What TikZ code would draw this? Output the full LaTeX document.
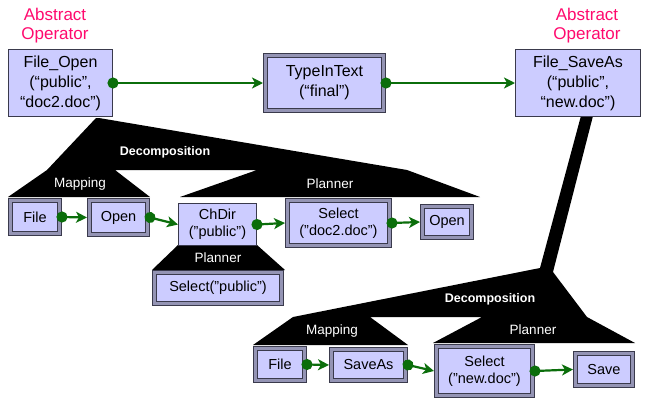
\documentclass[tikz,border=0pt]{standalone}
\usepackage{fontspec}
\setmainfont{Liberation Sans}
\usetikzlibrary{arrows.meta}
\definecolor{lav}{HTML}{CCCCFF}
\definecolor{edge}{HTML}{3A3A4C}
\definecolor{band}{HTML}{9494B4}
\definecolor{flow}{HTML}{0B6E0B}
\definecolor{tag}{HTML}{FF0A6E}
\begin{document}
\begin{tikzpicture}[x=1pt,y=-1pt,
  opbox/.style={draw=edge, fill=lav, line width=1pt, align=center, inner sep=0pt,
    font=\fontsize{16}{20}\selectfont},
  smallop/.style={opbox, font=\fontsize{14.5}{17}\selectfont},
  prim/.style={draw=edge, double=band, double distance=3pt, line width=0.9pt,
    fill=lav, align=center, inner sep=0pt, outer sep=2.4pt,
    font=\fontsize{14.5}{17}\selectfont},
  flowarrow/.style={draw=flow, line width=2.2pt,
    {Circle[length=11pt]}-{Stealth[length=11pt,width=11pt,inset=3pt]},
    shorten <=-5.5pt},
  abstag/.style={text=tag, align=center, font=\fontsize{17}{19}\selectfont},
  treelabel/.style={text=white, font=\fontsize{13.5}{16}\selectfont},
  decolabel/.style={text=white, font=\bfseries\fontsize{12.5}{15}\selectfont}]
\useasboundingbox (0,0) rectangle (648,402);
\fill[white] (0,0) rectangle (648,402);

% decomposition tree under File_Open: decomposition, mapping and planner parts
\fill[black] (96,118) -- (99,118) -- (407,170) -- (480,197) -- (180,197)
  -- (257,170) -- (115,170) -- (150,197) -- (8,197) -- (47,170) -- cycle;
% planner under ChDir
\fill[black] (178,245) -- (257,245) -- (285,270) -- (152,270) -- cycle;
% decomposition tree under File_SaveAs, with its stem
\fill[black] (582,112) -- (594,112) -- (553,272) -- (587,317) -- (635,343)
  -- (433,343) -- (482,317) -- (370,317) -- (408,345) -- (253,345)
  -- (293,317) -- (540,268) -- cycle;

% abstract operators and the primitive between them
\node[abstag] (tagA) at (55,26) {Abstract\\Operator};
\node[abstag] (tagB) at (587,26) {Abstract\\Operator};
\node[opbox, minimum width=104pt, minimum height=67pt] (fopen) at (60.5,83)
  {File\_Open\\(“public”,\\“doc2.doc”)};
\node[prim, font=\fontsize{16}{20}\selectfont, minimum width=118.2pt, minimum height=55.2pt]
  (type) at (324.5,83) {TypeInText\\(“final”)};
\node[opbox, minimum width=125pt, minimum height=67pt] (fsave) at (578,83)
  {File\_SaveAs\\(“public”,\\“new.doc”)};

% tree labels
\node[decolabel] (dec1) at (165,152) {Decomposition};
\node[treelabel] (map1) at (80,184) {Mapping};
\node[treelabel] (plan1) at (330,184) {Planner};
\node[treelabel] (plan2) at (218,258) {Planner};
\node[decolabel] (dec2) at (490,299) {Decomposition};
\node[treelabel] (map2) at (332,331) {Mapping};
\node[treelabel] (plan3) at (533,330) {Planner};

% expansion of File_Open
\node[prim, minimum width=49.2pt, minimum height=33.2pt] (file1) at (35,217) {File};
\node[prim, minimum width=58.2pt, minimum height=34.2pt] (open1) at (118.5,217.5) {Open};
\node[smallop, minimum width=78pt, minimum height=42pt] (chdir) at (217.5,224.5)
  {ChDir\\("public")};
\node[prim, minimum width=102.2pt, minimum height=45.2pt] (seldoc) at (338.5,223)
  {Select\\("doc2.doc")};
\node[prim, minimum width=49.2pt, minimum height=31.2pt] (open2) at (447,222) {Open};
\node[prim, minimum width=127.2pt, minimum height=31.2pt] (selpub) at (218,288)
  {Select("public")};

% expansion of File_SaveAs
\node[prim, minimum width=49.2pt, minimum height=32.2pt] (file2) at (280,364.5) {File};
\node[prim, minimum width=74.2pt, minimum height=31.2pt] (saveas) at (368.5,365) {SaveAs};
\node[prim, minimum width=96.2pt, minimum height=49.2pt] (selnew) at (484.5,371)
  {Select\\("new.doc")};
\node[prim, minimum width=57.2pt, minimum height=32.2pt] (save) at (604,369.5) {Save};

% ordering links
\draw[flowarrow] (fopen.east) -- (type.west);
\draw[flowarrow] (type.east) -- (fsave.west);
\draw[flowarrow] (file1.east) -- (open1.west);
\draw[flowarrow] (open1.east) -- (chdir.west);
\draw[flowarrow] (chdir.east) -- (seldoc.west);
\draw[flowarrow] (seldoc.east) -- (open2.west);
\draw[flowarrow] (file2.east) -- (saveas.west);
\draw[flowarrow] (saveas.east) -- (selnew.west);
\draw[flowarrow] (selnew.east) -- (save.west);
\end{tikzpicture}
\end{document}
